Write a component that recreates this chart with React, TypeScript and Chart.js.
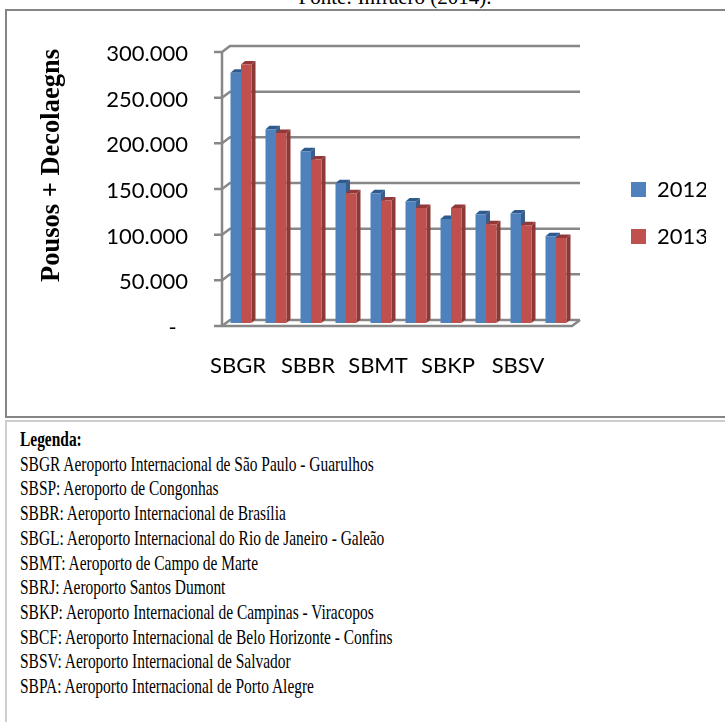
import React, { useEffect, useRef } from 'react';
import { Chart, registerables } from 'chart.js';

Chart.register(...registerables);

const categories = ['SBGR', 'SBSP', 'SBBR', 'SBGL', 'SBMT', 'SBRJ', 'SBKP', 'SBCF', 'SBSV', 'SBPA'];
const values2012 = [274000, 212000, 188000, 153000, 142000, 133000, 114000, 119000, 120000, 95000];
const values2013 = [283000, 208000, 179000, 142000, 134000, 126000, 126000, 108000, 107000, 93000];
const seriesNames = ['2012', '2013'];
const yTickValues = [0, 50000, 100000, 150000, 200000, 250000, 300000];
const yAxisTitle = 'Pousos + Decolaegns';
const sourceNote = 'Fonte: Infraero (2014).';
const legendTitle = 'Legenda:';
const legendLines = [
  'SBGR Aeroporto Internacional de São Paulo - Guarulhos',
  'SBSP: Aeroporto de Congonhas',
  'SBBR: Aeroporto Internacional de Brasília',
  'SBGL: Aeroporto Internacional do Rio de Janeiro - Galeão',
  'SBMT: Aeroporto de Campo de Marte',
  'SBRJ: Aeroporto Santos Dumont',
  'SBKP: Aeroporto Internacional de Campinas - Viracopos',
  'SBCF: Aeroporto Internacional de Belo Horizonte - Confins',
  'SBSV: Aeroporto Internacional de Salvador',
  'SBPA: Aeroporto Internacional de Porto Alegre',
];

const frontColors = ['#4F81BD', '#C0504D'];
const sideColors = ['#385E8C', '#8A3936'];
const topColors = ['#2F5A8E', '#93383A'];
const gridColor = '#878787';
const sansFont = 'Lato, "Open Sans", sans-serif';

function fmtThousands(v: number): string {
  if (v === 0) return '-  ';
  return String(v).replace(/\B(?=(\d{3})+(?!\d))/g, '.');
}

const depthPlugin = {
  id: 'depth3d',
  afterLayout(chart: any) {
    const lg = chart.legend;
    if (lg) {
      const shift = 32.5;
      lg.left += shift;
      lg.right += shift;
    }
  },
  beforeDatasetsDraw(chart: any) {
    const { ctx, chartArea: a, scales } = chart;
    const ys = scales.y;
    const fx = -1.5, fy = 3, bx = 6.5, by = -3;
    ctx.save();
    ctx.strokeStyle = gridColor;
    ctx.lineWidth = 2.5;
    ctx.lineJoin = 'round';
    const pTop = ys.getPixelForValue(yTickValues[yTickValues.length - 1]);
    const p0 = ys.getPixelForValue(0);
    ctx.beginPath();
    ctx.moveTo(a.left + fx, pTop + fy);
    ctx.lineTo(a.left + fx, p0 + fy);
    ctx.stroke();
    for (const v of yTickValues) {
      const p = ys.getPixelForValue(v);
      ctx.beginPath();
      ctx.moveTo(a.left + fx - 8, p + fy);
      ctx.lineTo(a.left + fx, p + fy);
      ctx.lineTo(a.left + bx, p + by);
      ctx.lineTo(a.right + bx, p + by);
      ctx.stroke();
    }
    ctx.beginPath();
    ctx.moveTo(a.left + fx, p0 + fy);
    ctx.lineTo(a.right + fx, p0 + fy);
    ctx.lineTo(a.right + bx, p0 + by);
    ctx.stroke();

    const dx = 4, dy = 3.5;
    chart.data.datasets.forEach((_ds: any, i: number) => {
      const meta = chart.getDatasetMeta(i);
      meta.data.forEach((el: any) => {
        const { x, y, base, width } = el.getProps(['x', 'y', 'base', 'width'], true);
        const l = x - width / 2;
        const r = x + width / 2;
        ctx.fillStyle = sideColors[i];
        ctx.beginPath();
        ctx.moveTo(r, y);
        ctx.lineTo(r + dx, y - dy);
        ctx.lineTo(r + dx, base - dy);
        ctx.lineTo(r, base);
        ctx.closePath();
        ctx.fill();
        ctx.fillStyle = topColors[i];
        ctx.beginPath();
        ctx.moveTo(l, y);
        ctx.lineTo(l + dx, y - dy);
        ctx.lineTo(r + dx, y - dy);
        ctx.lineTo(r, y);
        ctx.closePath();
        ctx.fill();
      });
    });
    ctx.restore();
  },
};

function BarChart() {
  const ref = useRef<HTMLCanvasElement | null>(null);
  useEffect(() => {
    if (!ref.current) return;
    const chart = new Chart(ref.current, {
      type: 'bar',
      data: {
        labels: categories,
        datasets: [
          { label: seriesNames[0], data: values2012, backgroundColor: frontColors[0], borderWidth: 0, barPercentage: 1, categoryPercentage: 0.6 },
          { label: seriesNames[1], data: values2013, backgroundColor: frontColors[1], borderWidth: 0, barPercentage: 1, categoryPercentage: 0.6 },
        ],
      },
      options: {
        responsive: false,
        animation: false,
        events: [],
        color: '#000',
        layout: { padding: { left: 20, right: 51.5, top: 49, bottom: 43 } },
        plugins: {
          tooltip: { enabled: false },
          legend: {
            position: 'right',
            maxWidth: 100,
            labels: {
              boxWidth: 15,
              boxHeight: 15,
              padding: 25,
              color: '#000',
              font: { family: sansFont, size: 22 },
            },
          },
        },
        scales: {
          x: {
            grid: { display: false, drawTicks: false },
            border: { display: false },
            ticks: {
              autoSkip: false,
              maxRotation: 0,
              padding: 30,
              labelOffset: -3,
              color: '#000',
              font: { family: sansFont, size: 22 },
              callback: (_v: any, i: number) => (i % 2 === 0 ? categories[i] : ''),
            },
            afterFit: (s: any) => { s.height = 54; },
          },
          y: {
            min: 0,
            max: 300000,
            grid: { display: false, drawTicks: false },
            border: { display: false },
            ticks: {
              stepSize: 50000,
              padding: 35.5,
              labelOffset: 5,
              color: '#000',
              font: { family: sansFont, size: 22 },
              callback: (v: any) => fmtThousands(Number(v)),
            },
            title: {
              display: true,
              text: yAxisTitle,
              align: 'end',
              color: '#000',
              padding: { top: 16.4, bottom: 0 },
              font: { family: '"Liberation Serif", "Times New Roman", serif', size: 26.5, weight: 'bold' },
            },
            afterFit: (s: any) => { s.width = 203.5; },
          },
        },
      },
      plugins: [depthPlugin],
    } as any);
    return () => chart.destroy();
  }, []);
  return (
    <canvas
      ref={ref}
      width={725}
      height={420}
      style={{ position: 'absolute', left: 0, top: 0, width: 725, height: 420 }}
    />
  );
}

export default function App() {
  const serif = '"Liberation Serif", "Times New Roman", serif';
  return (
    <div style={{ position: 'absolute', left: 0, top: 0, width: 725, height: 722, overflow: 'hidden', background: '#fff' }}>
      <div
        style={{
          position: 'absolute',
          left: 395,
          top: -15,
          fontFamily: serif,
          fontSize: 21,
          lineHeight: '24.7px',
          whiteSpace: 'nowrap',
          transform: 'translateX(-50%)',
          color: '#000',
        }}
      >
        {sourceNote}
      </div>
      <div
        style={{
          position: 'absolute',
          left: 5,
          top: 9,
          width: 900,
          height: 409,
          boxSizing: 'border-box',
          border: '2px solid #858585',
        }}
      />
      <BarChart />
      <div
        style={{
          position: 'absolute',
          left: 5,
          top: 420,
          width: 900,
          height: 400,
          boxSizing: 'border-box',
          borderLeft: '2px solid #cdcdcd',
          borderTop: '2px solid #cdcdcd',
        }}
      />
      <div
        style={{
          position: 'absolute',
          left: 20,
          top: 427,
          fontFamily: serif,
          fontSize: 21,
          lineHeight: '24.7px',
          whiteSpace: 'nowrap',
          transform: 'scaleX(0.735)',
          transformOrigin: 'left top',
          color: '#000',
        }}
      >
        <div style={{ fontWeight: 'bold' }}>{legendTitle}</div>
        {legendLines.map((t) => (
          <div key={t}>{t}</div>
        ))}
      </div>
    </div>
  );
}
